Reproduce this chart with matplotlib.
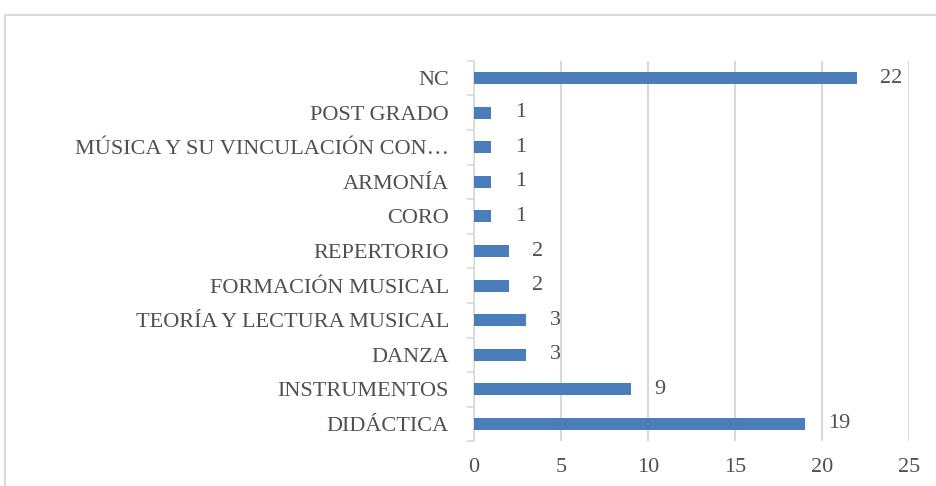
import matplotlib.pyplot as plt
from matplotlib.patches import Rectangle
from matplotlib.ticker import FixedLocator

categories = ['DIDÁCTICA', 'INSTRUMENTOS', 'DANZA', 'TEORÍA Y LECTURA MUSICAL',
              'FORMACIÓN MUSICAL', 'REPERTORIO', 'CORO', 'ARMONÍA',
              'MÚSICA Y SU VINCULACIÓN CON…', 'POST GRADO', 'NC']
counts = [19, 9, 3, 3, 2, 2, 1, 1, 1, 1, 22]
x_ticks = [0, 5, 10, 15, 20, 25]

text_color = '#505050'
grid_color = '#d9d9d9'
bar_color = '#4a7ebb'

plt.rcParams['font.family'] = ['Liberation Serif', 'DejaVu Serif']

fig = plt.figure(figsize=(9.36, 4.86), dpi=100)
ax = fig.add_axes([0.5064, 0.092, 0.4648, 0.783])

pos = list(range(len(categories)))
ax.barh(pos, counts, height=0.35, color=bar_color, zorder=3)
for p, v in zip(pos, counts):
    ax.annotate(str(v), (v, p), xytext=(17, 0), textcoords='offset points',
                ha='left', va='center', fontsize=16, color=text_color)

ax.set_xlim(0, 25)
ax.set_ylim(-0.5, len(categories) - 0.5)
ax.set_xticks(x_ticks)
ax.set_yticks(pos)
ax.set_yticklabels(categories)
ax.yaxis.set_minor_locator(FixedLocator([p - 0.5 for p in range(len(categories) + 1)]))
ax.tick_params(axis='y', which='major', length=0, pad=18, labelsize=16,
               labelcolor=text_color)
ax.tick_params(axis='y', which='minor', length=5, color=grid_color, width=1.2)
ax.tick_params(axis='x', length=0, pad=12, labelsize=16, labelcolor=text_color)

ax.grid(axis='x', color=grid_color, linewidth=1.5, zorder=0)
for side in ['top', 'right', 'bottom']:
    ax.spines[side].set_visible(False)
ax.spines['left'].set_color(grid_color)
ax.spines['left'].set_linewidth(1.2)

# chart frame, cut off at right and bottom
fig.patches.append(Rectangle((5 / 936, -0.1), 1.2, 1 - 15 / 486 + 0.1,
                             transform=fig.transFigure, fill=False,
                             edgecolor=grid_color, linewidth=1.5))

fig.savefig('out.png', dpi=100)
